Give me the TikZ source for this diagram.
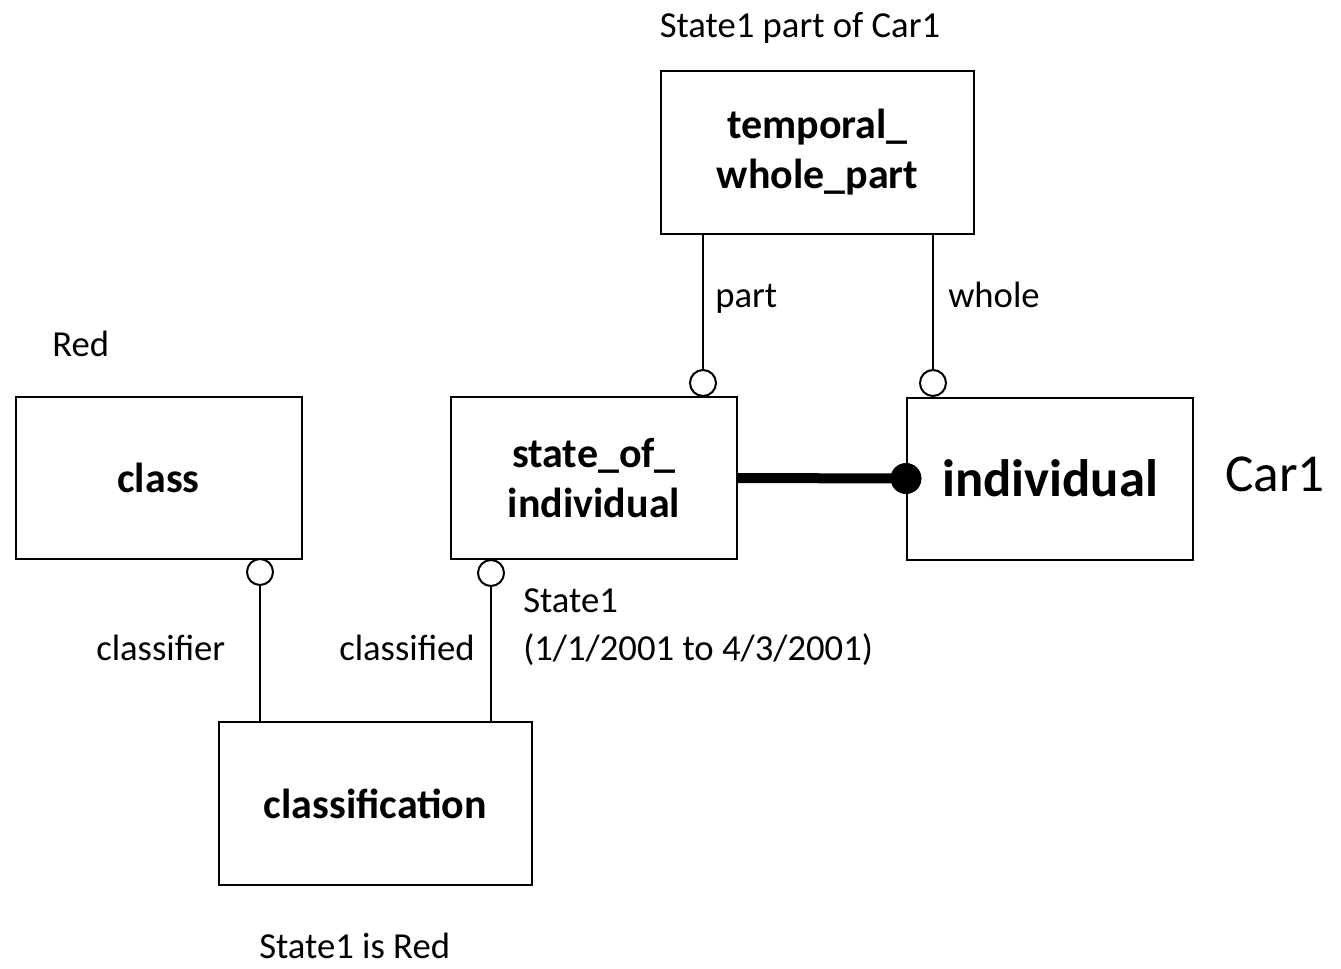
\documentclass[tikz,border=0pt]{standalone}
\usepackage{fontspec}
\setmainfont{Carlito}
\newcommand{\lbl}{\fontsize{27.5pt}{33pt}\selectfont}
\newcommand{\bxt}{\fontsize{31.5pt}{38pt}\selectfont\bfseries}
\newcommand{\bigbxt}{\fontsize{39.5pt}{47pt}\selectfont\bfseries}
\begin{document}
\begin{tikzpicture}[x=0.75pt,y=-0.75pt,
  box/.style={draw,line width=1.5pt,rectangle,align=center,inner sep=0pt,
              minimum width=214.5pt,minimum height=121.5pt,font=\bxt},
  widebox/.style={box,minimum width=234.75pt,minimum height=122.25pt},
  ring/.style={draw,line width=1.5pt,circle,fill=white,inner sep=0pt,minimum size=19.5pt},
  blob/.style={fill,circle,inner sep=0pt,minimum size=23pt},
  link/.style={line width=1.5pt},
  strong/.style={line width=7.5pt},
  txt/.style={font=\lbl,inner sep=0pt,anchor=base west}]
\useasboundingbox (0,0) rectangle (1341,968);

% entity boxes
\node[widebox] (twp) at (817.5,152) {temporal\_\\whole\_part};
\node[box] (cls) at (158.5,477.5) {class};
\node[box] (soi) at (594,478) {state\_of\_\\individual};
\node[box,font=\bigbxt] (ind) at (1050,478.5) {individual};
\node[widebox] (clf) at (375.5,803.5) {classification};

% optional-end rings
\node[ring,anchor=south] (rpart) at (703,397) {};
\node[ring,anchor=south] (rwhole) at (933,397) {};
\node[ring,anchor=north] (rclass) at (260,558) {};
\node[ring,anchor=north] (rstate) at (491,559) {};

% relationships
\draw[link] (twp.south -| rpart) -- (rpart.north);
\draw[link] (twp.south -| rwhole) -- (rwhole.north);
\draw[link] (rclass.south) -- (clf.north -| rclass);
\draw[link] (rstate.south) -- (clf.north -| rstate);

% state_of_individual to individual
\node[blob] (dot) at (ind.west) {};
\draw[strong] (soi.east) -- (dot.center);
\node[blob] at (ind.west) {};

% labels
\node[txt,anchor=base] (t1) at (800,37) {State1 part of Car1};
\node[txt] (t2) at (715,307) {part};
\node[txt] (t3) at (948,307) {whole};
\node[txt] (t4) at (52,356) {Red};
\node[txt,font=\fontsize{40pt}{48pt}\selectfont] (t5) at (1225,491) {Car1};
\node[txt] (t6) at (96,660) {classifier};
\node[txt] (t7) at (339,660) {classified};
\node[txt] (t8) at (523,612) {State1};
\node[txt] (t9) at (523,660) {(1/1/2001 to 4/3/2001)};
\node[txt] (t10) at (259,958) {State1 is Red};
\end{tikzpicture}
\end{document}
